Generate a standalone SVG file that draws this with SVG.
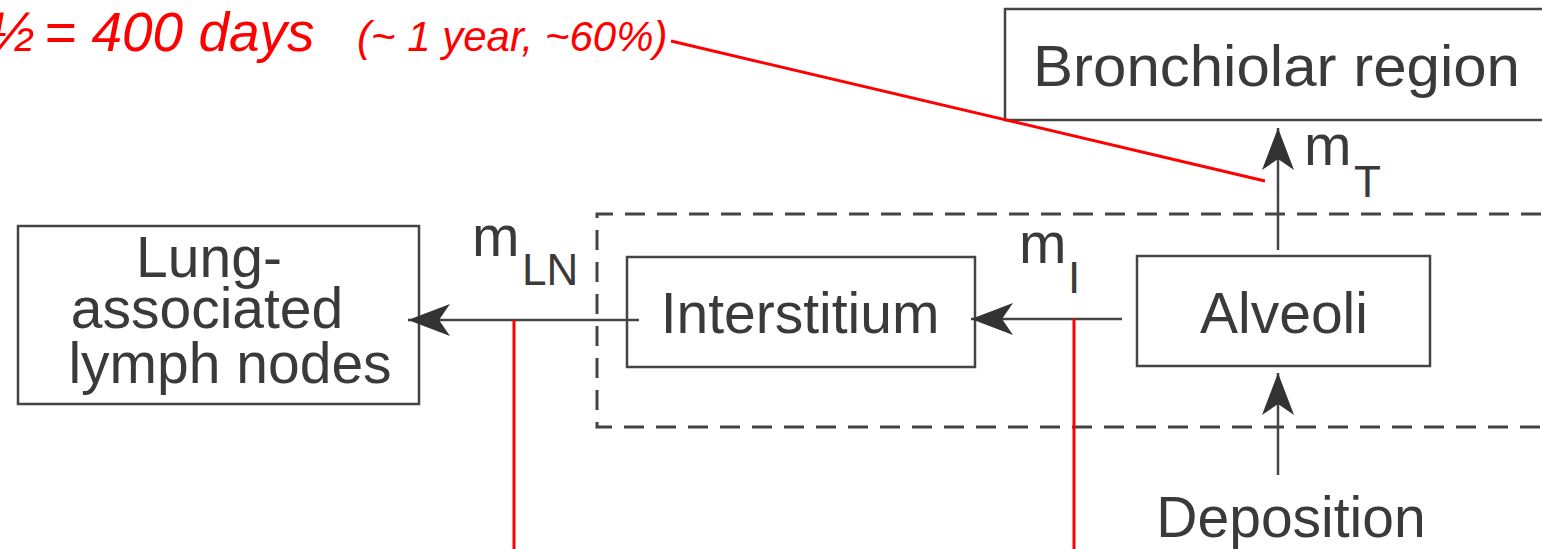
<svg xmlns="http://www.w3.org/2000/svg" width="1542" height="549" viewBox="0 0 1542 549">
<style>
.box{fill:#fff;stroke:#444;stroke-width:2.5}
.lbl{font-family:"Liberation Sans",Arial,sans-serif;fill:#3a3a3a;font-size:57px}
.sub{font-size:44px}
.con{stroke:#444;stroke-width:2.5;fill:none}
.dash{stroke:#444;stroke-width:3;fill:none;stroke-dasharray:20 12}
.red{stroke:#ff0000;stroke-width:3;fill:none}
.rtxt{font-family:"Liberation Sans",Arial,sans-serif;fill:#ff0000;font-style:italic}
</style>
<defs>
<marker id="ah" viewBox="0 0 44 32" refX="42" refY="16" markerWidth="44" markerHeight="32" markerUnits="userSpaceOnUse" orient="auto">
<path d="M0,0 L42,16 L0,32 L11,16 Z" fill="#333"/>
</marker>
</defs>
<rect width="1542" height="549" fill="#fff"/>

<g id="group-lung">
<path class="dash" d="M1541,214 H597 V427 H1541"/>
</g>

<g id="bronchiolar">
<rect class="box" x="1005" y="9" width="545" height="111"/>
<text class="lbl" x="1033" y="86" font-size="58" textLength="487" lengthAdjust="spacingAndGlyphs">Bronchiolar region</text>
</g>

<g id="lymph">
<rect class="box" x="18" y="226" width="401" height="178"/>
<text class="lbl" text-anchor="middle"><tspan x="209" y="277">Lung-</tspan><tspan x="207" y="328">associated</tspan><tspan x="230" y="383">lymph nodes</tspan></text>
</g>

<g id="interstitium">
<rect class="box" x="627" y="257" width="348" height="110"/>
<text class="lbl" x="800" y="333" text-anchor="middle">Interstitium</text>
</g>

<g id="alveoli">
<rect class="box" x="1137" y="256" width="293" height="110"/>
<text class="lbl" x="1284" y="333" text-anchor="middle">Alveoli</text>
</g>

<g id="deposition">
<text class="lbl" x="1291" y="537" text-anchor="middle">Deposition</text>
</g>

<g id="connectors">
<line class="con" x1="639" y1="320" x2="408" y2="320" marker-end="url(#ah)"/>
<line class="con" x1="1122" y1="319" x2="971" y2="319" marker-end="url(#ah)"/>
<line class="con" x1="1278" y1="250" x2="1278" y2="128" marker-end="url(#ah)"/>
<line class="con" x1="1278" y1="475" x2="1278" y2="373" marker-end="url(#ah)"/>
<text class="lbl" x="472" y="256">m</text><text class="lbl sub" x="522" y="285">LN</text>
<text class="lbl" x="1019" y="263">m</text><text class="lbl sub" x="1068" y="293">I</text>
<text class="lbl" x="1304" y="165">m</text><text class="lbl sub" x="1354" y="197">T</text>
</g>

<g id="annotations">
<line class="red" x1="514" y1="320" x2="514" y2="549"/>
<line class="red" x1="1074" y1="319" x2="1074" y2="549"/>
<line class="red" x1="671" y1="41" x2="1265" y2="181"/>
<text class="rtxt" y="51" font-size="55"><tspan x="-11">½</tspan><tspan x="44">= 400 days</tspan></text>
<text class="rtxt" x="357" y="51" font-size="42">(~ 1 year, ~60%)</text>
</g>
</svg>
